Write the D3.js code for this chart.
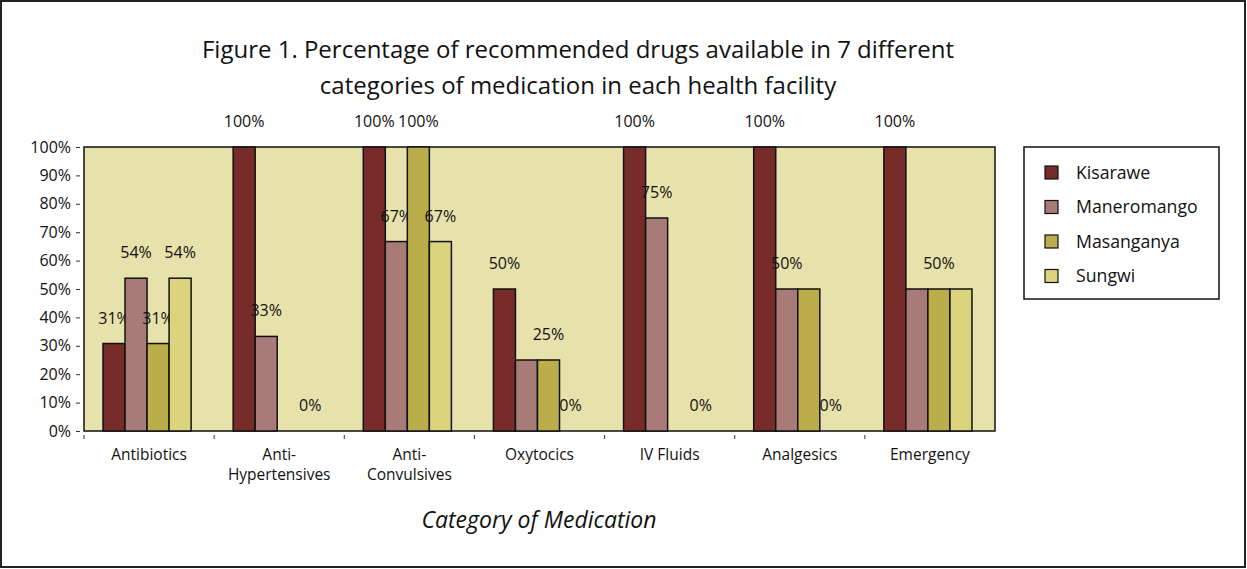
<!DOCTYPE html>
<html>
<head>
<meta charset="utf-8">
<script src="https://cdn.jsdelivr.net/npm/d3@7"></script>
<style>
  body { margin: 0; background: #fff; }
  svg { display: block; font-family: "Open Sans", Lato, sans-serif; }
</style>
</head>
<body>
<svg id="chart" width="1247" height="569"></svg>
<script>
// data
const categories = [["Antibiotics"], ["Anti-", "Hypertensives"], ["Anti-", "Convulsives"],
  ["Oxytocics"], ["IV Fluids"], ["Analgesics"], ["Emergency"]];
const facilities = ["Kisarawe", "Maneromango", "Masanganya", "Sungwi"];
const kisarawe    = [30.8, 100, 100, 50, 100, 100, 100];
const maneromango = [53.8, 33.3, 66.7, 25, 75, 50, 50];
const masanganya  = [30.8, 0, 100, 25, 0, 50, 50];
const sungwi      = [53.8, 0, 66.7, 0, 0, 0, 50];
// which bars carry a value label (1 = shown)
const showLabel = [
  [1, 1, 1, 1],
  [1, 1, 0, 1],
  [1, 1, 1, 1],
  [1, 0, 1, 1],
  [1, 1, 0, 1],
  [1, 1, 0, 1],
  [1, 0, 1, 0]
];
const yTicks = [0, 10, 20, 30, 40, 50, 60, 70, 80, 90, 100];
const colors = ["#772c29", "#a97b78", "#bbad49", "#dbd47d"];

const series = [kisarawe, maneromango, masanganya, sungwi];

const svg = d3.select("#chart");
const W = 1247, H = 569;
const m = {left: 84, right: 252, top: 147, bottom: 138};
const pw = W - m.left - m.right, ph = H - m.top - m.bottom;

// outer frame
svg.append("rect")
  .attr("x", 1).attr("y", 1).attr("width", W - 3).attr("height", H - 3)
  .attr("fill", "#fff").attr("stroke", "#222").attr("stroke-width", 2);

// title
const title = svg.append("text")
  .attr("text-anchor", "middle")
  .attr("font-size", 24)
  .attr("fill", "#111");
title.append("tspan").attr("x", 578).attr("y", 58)
  .text("Figure 1. Percentage of recommended drugs available in 7 different");
title.append("tspan").attr("x", 578).attr("y", 94)
  .text("categories of medication in each health facility");

const g = svg.append("g").attr("transform", `translate(${m.left},${m.top})`);

const x0 = d3.scaleBand().domain(d3.range(categories.length)).range([0, pw]);
const x1 = d3.scaleBand().domain(d3.range(facilities.length))
  .range([x0.bandwidth() * 0.146, x0.bandwidth() * 0.823]);
const y = d3.scaleLinear().domain([0, 100]).range([ph, 0]);

// plot area
g.append("rect")
  .attr("width", pw).attr("height", ph)
  .attr("fill", "#e7e2ab").attr("stroke", "#111").attr("stroke-width", 1.5);

// y axis
const yAxis = g.append("g")
  .attr("transform", "translate(-4,0)")
  .call(d3.axisLeft(y).tickValues(yTicks).tickSize(4).tickPadding(5).tickFormat(d => d + "%"));
yAxis.select(".domain").remove();
yAxis.selectAll("text").attr("font-size", 16).attr("fill", "#111").attr("font-family", "Open Sans");
yAxis.selectAll("line").attr("stroke", "#333");

// x ticks at band starts
g.selectAll(".xtick")
  .data(d3.range(categories.length))
  .enter().append("line")
  .attr("x1", d => x0(d)).attr("x2", d => x0(d))
  .attr("y1", ph + 4).attr("y2", ph + 8)
  .attr("stroke", "#333");

// category labels
const catLab = g.selectAll(".cat")
  .data(categories)
  .enter().append("text")
  .attr("class", "cat")
  .attr("text-anchor", "middle")
  .attr("font-size", 15.5)
  .attr("fill", "#111");
catLab.each(function(lines, i) {
  const t = d3.select(this);
  lines.forEach((l, j) => {
    t.append("tspan")
      .attr("x", x0(i) + x0.bandwidth() / 2)
      .attr("y", ph + 29 + j * 20)
      .text(l);
  });
});

// bars
const groups = g.selectAll(".grp")
  .data(categories)
  .enter().append("g")
  .attr("transform", (d, i) => `translate(${x0(i)},0)`);

groups.each(function(c, i) {
  const grp = d3.select(this);
  series.forEach((s, j) => {
    if (s[i] > 0) {
      grp.append("rect")
        .attr("x", x1(j))
        .attr("y", y(s[i]))
        .attr("width", x1.bandwidth())
        .attr("height", ph - y(s[i]))
        .attr("fill", colors[j])
        .attr("stroke", "#111")
        .attr("stroke-width", 1.5);
    }
    if (showLabel[i][j]) {
      grp.append("text")
        .attr("x", x1(j) + x1.bandwidth() / 2)
        .attr("y", y(s[i]) - 20)
        .attr("text-anchor", "middle")
        .attr("font-size", 16)
        .attr("fill", "#111")
        .text(Math.round(s[i]) + "%");
    }
  });
});

// axis title
svg.append("text")
  .attr("x", 539).attr("y", 528)
  .attr("text-anchor", "middle")
  .attr("font-size", 23)
  .attr("font-style", "italic")
  .attr("fill", "#111")
  .text("Category of Medication");

// legend
const lg = svg.append("g").attr("transform", "translate(1024,147)");
lg.append("rect")
  .attr("width", 195).attr("height", 152)
  .attr("fill", "#fff").attr("stroke", "#111").attr("stroke-width", 1.5);
facilities.forEach((f, j) => {
  lg.append("rect")
    .attr("x", 21).attr("y", 19 + j * 34.5)
    .attr("width", 13).attr("height", 13)
    .attr("fill", colors[j]).attr("stroke", "#111").attr("stroke-width", 1.2);
  lg.append("text")
    .attr("x", 52).attr("y", 31.5 + j * 34.5)
    .attr("font-size", 17.7)
    .attr("fill", "#111")
    .text(f);
});
</script>
</body>
</html>
